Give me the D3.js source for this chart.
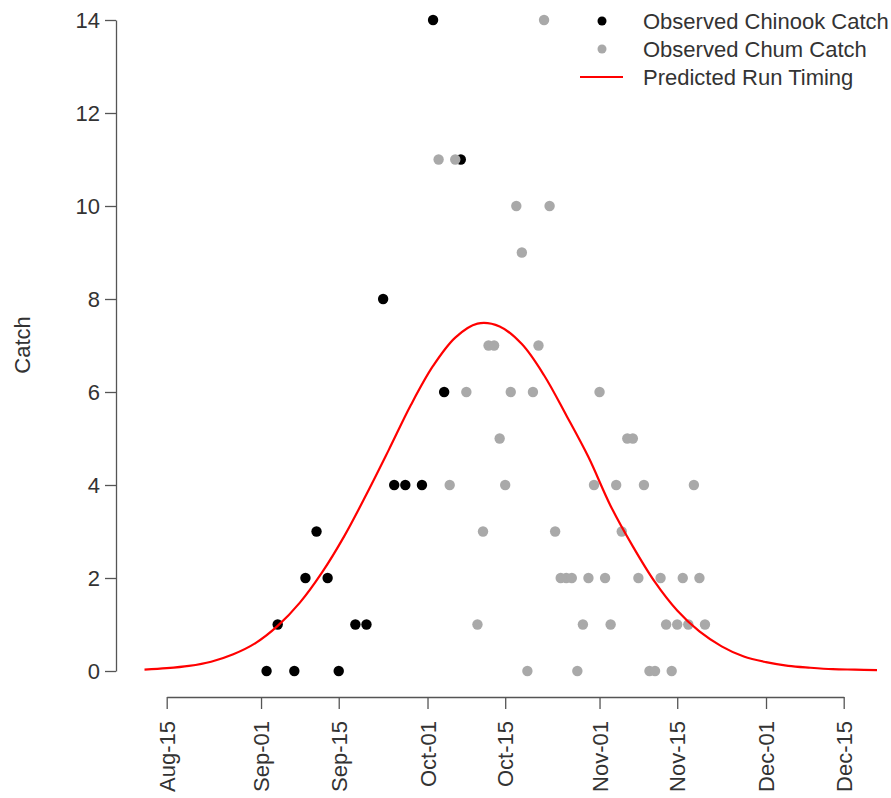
<!DOCTYPE html>
<html>
<head>
<meta charset="utf-8">
<script src="https://cdn.jsdelivr.net/npm/d3@7"></script>
<style>
  body { margin: 0; background: #fff; }
  svg { display: block; font-family: "Liberation Sans", Arial, sans-serif; }
</style>
</head>
<body>
<svg id="chart" width="891" height="798"></svg>
<script>
// observed chinook catch (date, count)
var chinookDates = ["09-02","09-04","09-07","09-09","09-11","09-13","09-15","09-18","09-20",
    "09-23","09-25","09-27","09-30","10-02","10-04","10-07"];
var chinookCatch = [0,1,0,2,3,2,0,1,1,8,4,4,4,14,6,11];

// observed chum catch
var chumDates = ["10-03","10-06","10-22","10-17","10-23","10-18","10-12","10-13","10-21",
    "10-08","10-16","10-20","11-01","10-14","11-06","11-07","10-05","10-15","10-31","11-04",
    "11-09","11-18","10-11","10-24","11-05","10-25","10-26","10-27","10-30","11-02","11-08",
    "11-12","11-16","11-19","10-10","10-29","11-03","11-13","11-15","11-17","11-20",
    "10-19","10-28","11-10","11-11","11-14"];
var chumCatch = [11,11,14,10,10,9,7,7,7,
    6,6,6,6,5,5,5,4,4,4,4,
    4,4,3,3,3,2,2,2,2,2,2,
    2,2,2,1,1,1,1,1,1,1,
    0,0,0,0,0];

// predicted run timing curve, every 4 days
var runDates = ["08-11","08-15","08-19","08-23","08-27","08-31","09-04","09-08","09-12","09-16",
    "09-20","09-24","09-28","10-02","10-06","10-10","10-14","10-18","10-22","10-26",
    "10-30","11-03","11-07","11-11","11-15","11-19","11-23","11-27","12-01","12-05",
    "12-09","12-13","12-17","12-21"];
var runTiming = [0.03,0.06,0.11,0.2,0.36,0.6,0.97,1.47,2.12,2.9,
    3.8,4.75,5.72,6.56,7.17,7.47,7.41,7.03,6.36,5.5,
    4.6,3.55,2.68,1.91,1.3,0.85,0.53,0.31,0.19,0.11,
    0.07,0.04,0.03,0.02];

var xTickDates = ["08-15","09-01","09-15","10-01","10-15","11-01","11-15","12-01","12-15"];
var xTickLabels = ["Aug-15","Sep-01","Sep-15","Oct-01","Oct-15","Nov-01","Nov-15","Dec-01","Dec-15"];
var yTicks = [0,2,4,6,8,10,12,14];

var legendLabels = ["Observed Chinook Catch","Observed Chum Catch","Predicted Run Timing"];

var parse = d3.timeParse("%m-%d");
var fontSize = 22,
    textColor = "#333",
    axisColor = "#555",
    chumColor = "#a9a9a9",
    r = 5.2;

var svg = d3.select("#chart");

var x = d3.scaleTime()
    .domain([parse(xTickDates[0]), parse(xTickDates[xTickDates.length - 1])])
    .range([166.7, 843.7]);
var y = d3.scaleLinear()
    .domain([0, 14])
    .range([671, 20]);

// y axis
var yAxis = svg.append("g")
    .attr("transform", "translate(116,0)")
    .call(d3.axisLeft(y).tickValues(yTicks).tickSize(11).tickSizeOuter(0).tickPadding(5));
yAxis.selectAll("text")
    .attr("fill", textColor)
    .style("font-size", fontSize + "px")
    .style("font-family", "inherit");

// x axis with rotated labels
var xAxis = svg.append("g")
    .attr("transform", "translate(0,697)")
    .call(d3.axisBottom(x)
        .tickValues(xTickDates.map(parse))
        .tickFormat(function(d, i) { return xTickLabels[i]; })
        .tickSize(12).tickSizeOuter(0));
xAxis.selectAll("text")
    .attr("transform", "rotate(-90)")
    .attr("x", -24)
    .attr("y", 0)
    .attr("dy", "0.35em")
    .attr("text-anchor", "end")
    .attr("fill", textColor)
    .style("font-size", fontSize + "px")
    .style("font-family", "inherit");

svg.selectAll(".domain, .tick line")
    .attr("stroke", axisColor)
    .attr("stroke-width", 1.3);

svg.append("text")
    .attr("transform", "translate(30,345) rotate(-90)")
    .attr("text-anchor", "middle")
    .attr("fill", textColor)
    .style("font-size", fontSize + "px")
    .text("Catch");

// points
svg.append("g").selectAll("circle")
    .data(chinookDates)
    .enter().append("circle")
    .attr("cx", function(d) { return x(parse(d)); })
    .attr("cy", function(d, i) { return y(chinookCatch[i]); })
    .attr("r", r)
    .attr("fill", "#000");

svg.append("g").selectAll("circle")
    .data(chumDates)
    .enter().append("circle")
    .attr("cx", function(d) { return x(parse(d)); })
    .attr("cy", function(d, i) { return y(chumCatch[i]); })
    .attr("r", r)
    .attr("fill", chumColor);

// run timing curve
var line = d3.line()
    .x(function(d) { return x(parse(d)); })
    .y(function(d, i) { return y(runTiming[i]); })
    .curve(d3.curveCatmullRom.alpha(0.5));

svg.append("path")
    .datum(runDates)
    .attr("d", line)
    .attr("fill", "none")
    .attr("stroke", "#ff0000")
    .attr("stroke-width", 2.2);

// legend (no box)
var legend = svg.append("g").attr("transform", "translate(602,21)");
var rows = legend.selectAll("g")
    .data(legendLabels)
    .enter().append("g")
    .attr("transform", function(d, i) { return "translate(0," + (i * 28) + ")"; });

rows.filter(function(d, i) { return i < 2; })
    .append("circle")
    .attr("r", 4.5)
    .attr("fill", function(d, i) { return i == 0 ? "#000" : chumColor; });

rows.filter(function(d, i) { return i == 2; })
    .append("line")
    .attr("x1", -22).attr("x2", 21)
    .attr("stroke", "#ff0000")
    .attr("stroke-width", 2.2);

rows.append("text")
    .attr("x", 41)
    .attr("dy", "0.35em")
    .attr("fill", textColor)
    .style("font-size", fontSize + "px")
    .text(function(d) { return d; });
</script>
</body>
</html>
